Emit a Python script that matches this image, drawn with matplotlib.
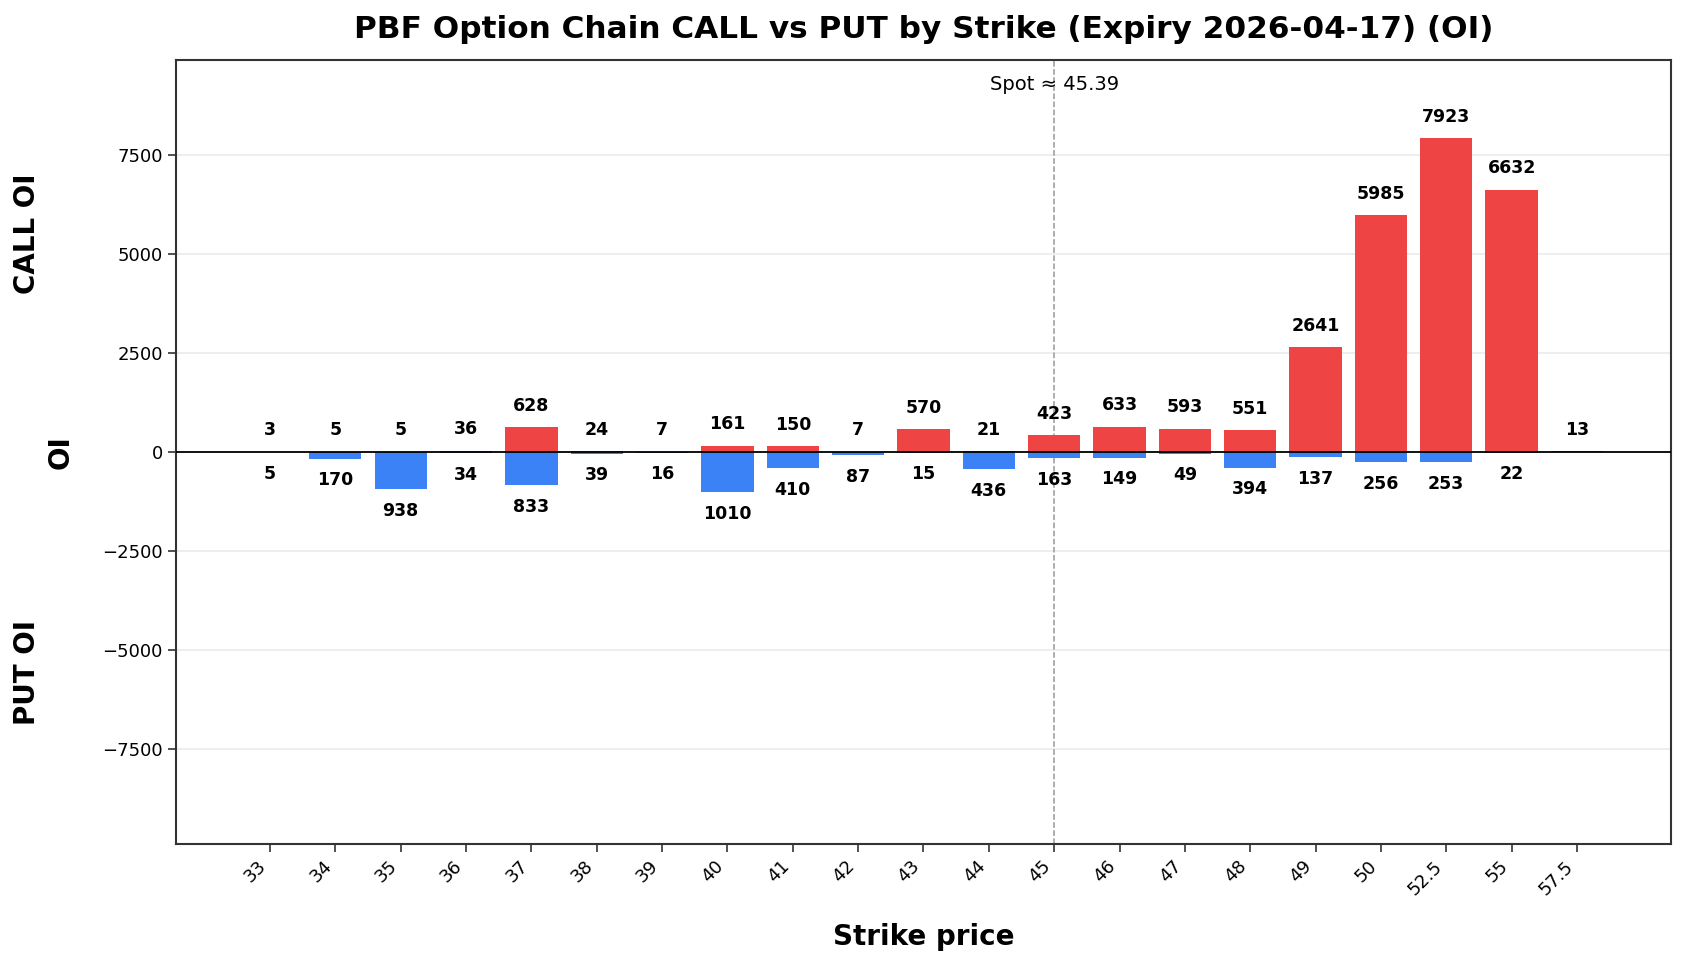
import numpy as np
import matplotlib
matplotlib.use("Agg")
import matplotlib.pyplot as plt

# ---------------------------------------------------------------
# data
strikes = ["33", "34", "35", "36", "37", "38", "39", "40", "41", "42", "43",
           "44", "45", "46", "47", "48", "49", "50", "52.5", "55", "57.5"]
call_oi = [3, 5, 5, 36, 628, 24, 7, 161, 150, 7, 570,
           21, 423, 633, 593, 551, 2641, 5985, 7923, 6632, 13]
put_oi = [5, 170, 938, 34, 833, 39, 16, 1010, 410, 87, 15,
          436, 163, 149, 49, 394, 137, 256, 253, 22, 0]
spot = 45.39
spot_strike = "45"

# ---------------------------------------------------------------
fig = plt.figure(figsize=(16.85, 9.65), dpi=100)
ax = fig.add_axes([0.1044, 0.1254, 0.8873, 0.8124])

x = np.arange(len(strikes))
calls = np.array(call_oi)
puts = np.array(put_oi)

ax.bar(x, calls, width=0.8, color="#ef4444", zorder=2)
ax.bar(x, -puts, width=0.8, color="#3b82f6", zorder=2)

vmax = max(calls.max(), puts.max())
off = vmax * 0.04
for xi, c, p in zip(x, calls, puts):
    if c > 0:
        ax.text(xi, c + off, str(c), ha="center", va="bottom",
                fontsize=12.5, fontweight="bold")
    if p > 0:
        ax.text(xi, -p - off, str(p), ha="center", va="top",
                fontsize=12.5, fontweight="bold")

ax.axhline(0, color="black", linewidth=1.3, zorder=3)

# spot marker at nearest strike
si = strikes.index(spot_strike)
ax.axvline(si, color="#999999", linestyle="--", linewidth=1.1, zorder=1)
ax.text(si, 0.969, "Spot \u2248 %.2f" % spot, transform=ax.get_xaxis_transform(),
        ha="center", va="center", fontsize=14)

ax.set_ylim(-vmax * 1.25, vmax * 1.25)
ax.set_xticks(x)
ax.set_xticklabels(strikes, rotation=45, ha="right", fontsize=13)
ax.tick_params(axis="y", labelsize=13)
ax.tick_params(length=6, width=1.2, color="#333333")
ax.grid(axis="y", color="#b0b0b0", alpha=0.25, linewidth=1.2, zorder=0)
ax.set_axisbelow(True)
for s in ax.spines.values():
    s.set_color("#333333")
    s.set_linewidth(1.5)

ax.set_title("PBF Option Chain CALL vs PUT by Strike (Expiry 2026-04-17) (OI)",
             fontsize=22.4, fontweight="bold", pad=16)
ax.set_xlabel("Strike price", fontsize=20, fontweight="bold", labelpad=18)
ax.set_ylabel("OI", fontsize=20, fontweight="bold")
ax.yaxis.set_label_coords(-0.068, 0.5)

fig.text(0.0163, 0.7575, "CALL OI", rotation=90, ha="center", va="center",
         fontsize=20, fontweight="bold")
fig.text(0.0163, 0.3036, "PUT OI", rotation=90, ha="center", va="center",
         fontsize=20, fontweight="bold")

plt.savefig("out.png", dpi=100)
